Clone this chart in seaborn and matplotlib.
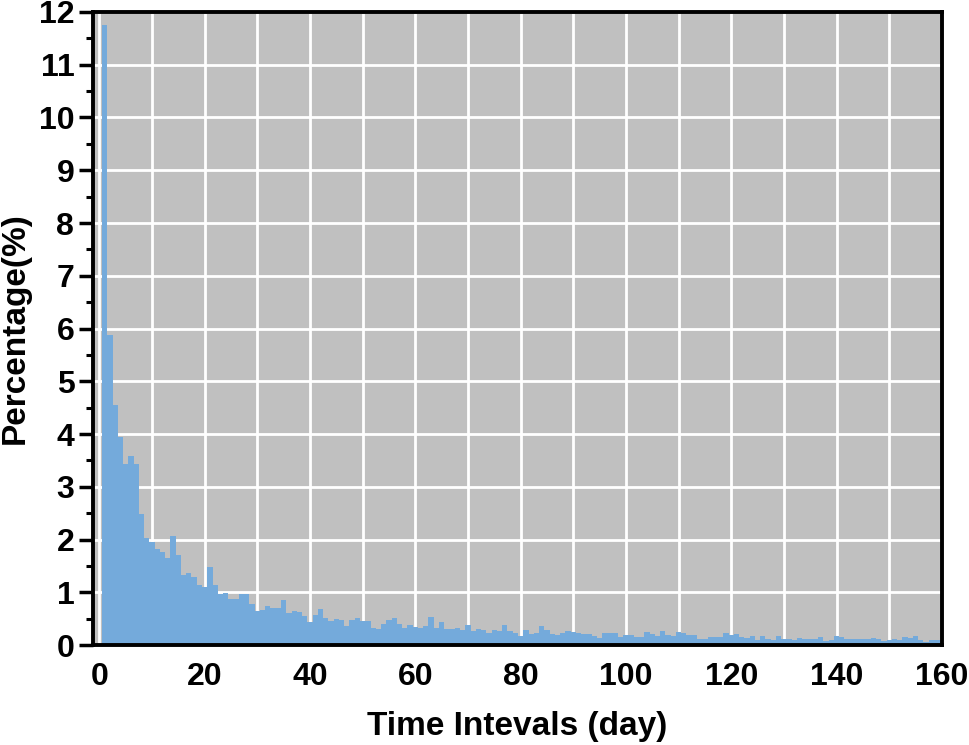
import numpy as np
import pandas as pd
import matplotlib
matplotlib.use("Agg")
import matplotlib.pyplot as plt
from matplotlib.ticker import MultipleLocator
import seaborn as sns

# percentage of time intervals for each day (1..160)
days = list(range(1, 161))
pct = [
    11.75, 5.88, 4.56, 3.94, 3.44, 3.58, 3.44, 2.48, 2.04, 1.96,
    1.82, 1.76, 1.66, 2.06, 1.71, 1.33, 1.36, 1.29, 1.14, 1.10,
    1.48, 1.14, 0.97, 0.98, 0.88, 0.88, 0.97, 0.97, 0.78, 0.65,
    0.67, 0.74, 0.71, 0.70, 0.86, 0.61, 0.65, 0.63, 0.56, 0.44,
    0.58, 0.69, 0.52, 0.46, 0.49, 0.48, 0.37, 0.48, 0.52, 0.45,
    0.45, 0.32, 0.30, 0.40, 0.47, 0.52, 0.40, 0.32, 0.39, 0.34,
    0.32, 0.37, 0.53, 0.32, 0.43, 0.30, 0.30, 0.32, 0.28, 0.39,
    0.26, 0.31, 0.28, 0.23, 0.29, 0.26, 0.38, 0.27, 0.23, 0.18,
    0.29, 0.21, 0.23, 0.37, 0.29, 0.21, 0.19, 0.23, 0.27, 0.25,
    0.24, 0.21, 0.21, 0.17, 0.14, 0.23, 0.23, 0.23, 0.15, 0.19,
    0.19, 0.15, 0.15, 0.25, 0.21, 0.17, 0.27, 0.19, 0.17, 0.25,
    0.23, 0.19, 0.19, 0.11, 0.11, 0.15, 0.15, 0.15, 0.23, 0.20,
    0.21, 0.15, 0.14, 0.17, 0.10, 0.17, 0.12, 0.10, 0.17, 0.12,
    0.11, 0.09, 0.14, 0.12, 0.11, 0.12, 0.16, 0.07, 0.09, 0.17,
    0.15, 0.12, 0.12, 0.12, 0.12, 0.11, 0.14, 0.11, 0.08, 0.09,
    0.11, 0.10, 0.15, 0.14, 0.17, 0.10, 0.06, 0.10, 0.10, 0.10,
]

df = pd.DataFrame({"day": days, "pct": pct})

BAR_COLOR = "#74aadb"
BG_COLOR = "#c0c0c0"

sns.set_style("ticks", rc={
    "axes.facecolor": BG_COLOR,
    "axes.edgecolor": "black",
    "grid.color": "white",
    "text.color": "black",
    "axes.labelcolor": "black",
    "xtick.color": "black",
    "ytick.color": "black",
})
plt.rcParams["font.family"] = ["Liberation Sans", "DejaVu Sans"]
plt.rcParams["font.weight"] = "bold"

fig = plt.figure(figsize=(9.69, 7.45), dpi=100)
ax = fig.add_axes([0.096, 0.134, 0.876, 0.850])

sns.histplot(data=df, x="day", weights="pct", discrete=True, color=BAR_COLOR,
             alpha=1, edgecolor="none", linewidth=0, ax=ax, zorder=2)

ax.set_xlim(-1.2, 160)
ax.set_ylim(0, 12)
ax.xaxis.set_major_locator(MultipleLocator(20))
ax.xaxis.set_minor_locator(MultipleLocator(10))
ax.yaxis.set_major_locator(MultipleLocator(1))
ax.yaxis.set_minor_locator(MultipleLocator(0.5))

ax.set_axisbelow(True)
ax.grid(axis="x", which="both", color="white", linewidth=2)
ax.grid(axis="y", which="major", color="white", linewidth=2)
ax.grid(axis="y", which="minor", visible=False)

for s in ax.spines.values():
    s.set_linewidth(2.8)
    s.set_zorder(5)

ax.tick_params(axis="y", which="major", direction="out", length=10, width=2.5,
               labelsize=23, right=False, colors="black")
ax.tick_params(axis="y", which="minor", direction="out", length=5, width=2.2,
               right=False, colors="black")
ax.tick_params(axis="x", which="both", length=0, labelsize=23, top=False, pad=12,
               colors="black")
for lab in ax.get_xticklabels() + ax.get_yticklabels():
    lab.set_fontweight("bold")

ax.set_xlabel("Time Intevals (day)", fontsize=24, fontweight="bold", labelpad=14,
              color="black")
ax.set_ylabel("Percentage(%)", fontsize=24, fontweight="bold", labelpad=6,
              color="black")

fig.savefig("out.png", dpi=100)
